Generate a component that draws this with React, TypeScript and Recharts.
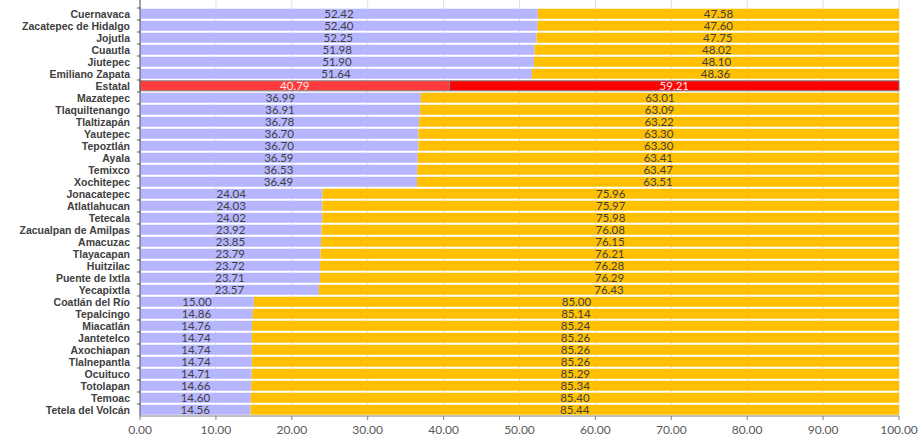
import { BarChart, Bar, XAxis, YAxis, CartesianGrid, LabelList, Cell } from "recharts";

const municipios = [
  "Cuernavaca", "Zacatepec de Hidalgo", "Jojutla", "Cuautla", "Jiutepec", "Emiliano Zapata",
  "Estatal", "Mazatepec", "Tlaquiltenango", "Tlaltizapán", "Yautepec", "Tepoztlán", "Ayala",
  "Temixco", "Xochitepec", "Jonacatepec", "Atlatlahucan", "Tetecala", "Zacualpan de Amilpas",
  "Amacuzac", "Tlayacapan", "Huitzilac", "Puente de Ixtla", "Yecapixtla", "Coatlán del Río",
  "Tepalcingo", "Miacatlán", "Jantetelco", "Axochiapan", "Tlalnepantla", "Ocuituco",
  "Totolapan", "Temoac", "Tetela del Volcán",
];

const serieA = [
  52.42, 52.4, 52.25, 51.98, 51.9, 51.64, 40.79, 36.99, 36.91, 36.78, 36.7, 36.7, 36.59,
  36.53, 36.49, 24.04, 24.03, 24.02, 23.92, 23.85, 23.79, 23.72, 23.71, 23.57, 15.0,
  14.86, 14.76, 14.74, 14.74, 14.74, 14.71, 14.66, 14.6, 14.56,
];

const serieB = [
  47.58, 47.6, 47.75, 48.02, 48.1, 48.36, 59.21, 63.01, 63.09, 63.22, 63.3, 63.3, 63.41,
  63.47, 63.51, 75.96, 75.97, 75.98, 76.08, 76.15, 76.21, 76.28, 76.29, 76.43, 85.0,
  85.14, 85.24, 85.26, 85.26, 85.26, 85.29, 85.34, 85.4, 85.44,
];

const xTicks = [0, 10, 20, 30, 40, 50, 60, 70, 80, 90, 100];

const data = municipios.map((name, i) => ({ name, a: serieA[i], b: serieB[i] }));

const FONT = "Lato, 'Open Sans', sans-serif";

function YTick({ x, y, payload }: any) {
  return (
    <g>
      <line x1={x + 5} x2={x + 9} y1={y - 6} y2={y - 6} stroke="#595959" />
      <text
        x={x - 2}
        y={y}
        dy="0.35em"
        textAnchor="end"
        fontFamily="'Liberation Sans', Arial, sans-serif"
        fontWeight="bold"
        fontSize={10.5}
        fill="#404040"
      >
        {payload.value}
      </text>
    </g>
  );
}

function makeLabel(key: "a" | "b") {
  return (props: any) => {
    const { x, y, width, height, index } = props;
    const v = key === "a" ? serieA[index] : serieB[index];
    const isEstatal = municipios[index] === "Estatal";
    return (
      <text
        x={x + width / 2}
        y={y + height / 2}
        dy="0.36em"
        textAnchor="middle"
        fontFamily={FONT}
        fontSize={11.5}
        fill={isEstatal ? "#ffe4e4" : "#404040"}
      >
        {v.toFixed(2)}
      </text>
    );
  };
}

export default function App() {
  return (
    <div style={{ position: "absolute", left: 0, top: 0, background: "#fff" }}>
      <BarChart
        width={918}
        height={441}
        data={data}
        layout="vertical"
        margin={{ top: 0, right: 19, bottom: 0, left: 0 }}
        barCategoryGap="7%"
      >
        <CartesianGrid horizontal={false} stroke="#e0e0e0" />
        <XAxis
          type="number"
          domain={[0, 100]}
          ticks={xTicks}
          interval={0}
          tickFormatter={(v) => v.toFixed(2)}
          tick={{ fill: "#595959", fontSize: 12, fontFamily: FONT }}
          axisLine={{ stroke: "#808080" }}
          tickLine={{ stroke: "#808080" }}
          tickSize={4}
          tickMargin={5}
          height={25}
        />
        <YAxis
          type="category"
          dataKey="name"
          width={140}
          interval={0}
          tick={<YTick />}
          tickLine={false}
          axisLine={{ stroke: "#595959" }}
          padding={{ top: 8, bottom: 0 }}
        />
        <Bar dataKey="a" stackId="s" fill="#b6b6ff" isAnimationActive={false}>
          {data.map((d) => (
            <Cell
              key={d.name}
              fill={d.name === "Estatal" ? "#ff3b3b" : "#b6b6ff"}
              stroke={d.name === "Estatal" ? "#7f7f7f" : "none"}
            />
          ))}
          <LabelList dataKey="a" content={makeLabel("a")} />
        </Bar>
        <Bar dataKey="b" stackId="s" fill="#ffc000" isAnimationActive={false}>
          {data.map((d) => (
            <Cell
              key={d.name}
              fill={d.name === "Estatal" ? "#ff0000" : "#ffc000"}
              stroke={d.name === "Estatal" ? "#7f7f7f" : "none"}
            />
          ))}
          <LabelList dataKey="b" content={makeLabel("b")} />
        </Bar>
      </BarChart>
    </div>
  );
}
